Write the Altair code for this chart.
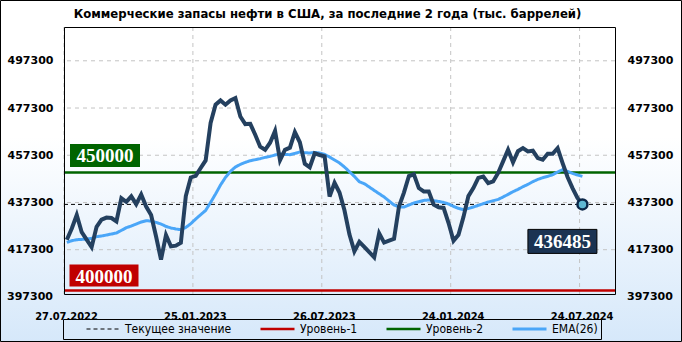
import altair as alt
import pandas as pd

TITLE = "Коммерческие  запасы нефти  в США, за последние  2 года (тыс. баррелей)"

FIRST_WEEK = "2022-07-31"

stocks = [
    421500, 426300, 432000, 424700, 421600, 418400, 427000, 430000, 430900, 430700,
    429300, 439100, 437600, 439900, 436600, 440700, 435600, 432000, 422900, 413100,
    423500, 418700, 419000, 420200, 440000, 447900, 448600, 451900, 455100, 471000,
    478700, 480500, 478700, 480500, 481500, 473700, 470500, 470600, 466000, 460900,
    459600, 462600, 467600, 455200, 459600, 460500, 467100, 462800, 453700, 452200,
    458100, 457400, 456800, 439800, 445600, 441500, 434000, 423800, 416600, 420600,
    418500, 416300, 414100, 424200, 420300, 421100, 421900, 435600, 441500, 448500,
    449200, 443400, 442000, 442000, 436400, 435300, 435000, 428600, 421100, 423600,
    431100, 440000, 443400, 447700, 448300, 445500, 446200, 449800, 454700, 459600,
    454300, 459000, 460300, 458900, 459200, 456100, 455400, 457900, 457900, 460300,
    454000, 448100, 443400, 439200, 436485,
]

ema26 = [
    420390, 421110, 421540, 421660, 421830, 422090, 422810, 423100, 423520, 423950,
    424370, 425470, 426620, 427320, 428170, 429030, 429580, 429450, 428860, 428170,
    427170, 426490, 426070, 425770, 426740, 428310, 430300, 432120, 433940, 437330,
    440890, 444700, 447920, 450460, 452320, 453420, 454270, 454990, 455420, 455840,
    456390, 456810, 457410, 457830, 457660, 457530, 458080, 458670, 458380, 458250,
    458510, 458250, 457660, 456560, 455290, 454020, 452320, 450330, 448360, 446100,
    445250, 443850, 442410, 441020, 439620, 437920, 436230, 435380, 435380, 436230,
    437080, 437630, 438180, 438350, 438050, 437750, 437330, 436650, 435640, 434790,
    434240, 434750, 435380, 436060, 436780, 437500, 438050, 438600, 439620, 440720,
    441860, 442840, 443980, 444960, 446100, 447070, 447790, 448350, 449060, 450210,
    451180, 450460, 449610, 448930, 448350,
]

level_1 = 400000
level_2 = 450000
current_value = 436485

y_ticks = [397300, 417300, 437300, 457300, 477300, 497300]
y_domain = [398540, 511610]
x_ticks = ["2022-07-27", "2023-01-25", "2023-07-26", "2024-01-24", "2024-07-24"]
x_domain = ["2022-07-27", "2024-09-12"]

legend_names = ["Текущее значение", "Уровень-1", "Уровень-2", "EMA(26)"]
legend_colors = ["#000000", "#c00000", "#006400", "#4aa6f8"]

# ---------------------------------------------------------------- tables
dates = pd.date_range(FIRST_WEEK, periods=len(stocks), freq="7D").strftime("%Y-%m-%d")
df_main = pd.DataFrame({"date": dates, "stocks": stocks, "ema": ema26})

rows = []
for name, val in zip(legend_names[:3], [current_value, level_1, level_2]):
    for d in x_domain:
        rows.append({"series": name, "date": d, "value": val})
for d, v in zip(dates, ema26):
    rows.append({"series": legend_names[3], "date": d, "value": v})
df_long = pd.DataFrame(rows)

df_last = pd.DataFrame({"date": [dates[-1]], "value": [stocks[-1]]})
df_l1 = pd.DataFrame({"value": [level_1]})
df_l2 = pd.DataFrame({"value": [level_2]})
df_yt_in = pd.DataFrame({"tick": [t for t in y_ticks if y_domain[0] <= t <= y_domain[1]]})
df_yt_out = pd.DataFrame({"tick": [t for t in y_ticks if t < y_domain[0]]})
df_xt = pd.DataFrame({"date": x_ticks})
df_title = pd.DataFrame({"t": [TITLE]})
one_row = pd.DataFrame({"a": [0]})


def dt(s):
    y, m, d = (int(p) for p in s.split("-"))
    return alt.DateTime(year=y, month=m, date=d, utc=True)


W, H = 551, 267
xs = alt.Scale(type="utc", domain=[dt(s) for s in x_domain])
ys = alt.Scale(domain=y_domain, zero=False, nice=False)

NAVY = "#24405f"
LABEL_FONT = "DejaVu Sans"
COND_FONT = "DejaVu Sans Condensed"

ax_bottom = alt.Axis(orient="bottom", values=[dt(s) for s in x_ticks], format="%d.%m.%Y",
                     labelFont=COND_FONT, labelFontWeight="bold", labelFontSize=11,
                     labelColor="black", labelPadding=16, labelOffset=2, labelFlush=False,
                     labelOverlap=False, ticks=False, grid=False, domain=True,
                     domainColor="black", domainWidth=1, title=None, zindex=1)
ax_top = alt.Axis(orient="top", labels=False, ticks=False, grid=False, domain=True,
                  domainColor="black", domainWidth=1, title=None, zindex=1)
ax_left = alt.Axis(orient="left", values=list(df_yt_in["tick"]), format="d",
                   labelFont=LABEL_FONT, labelFontWeight="bold", labelFontSize=11,
                   labelColor="black", labelPadding=11, labelFlush=False, labelOverlap=False,
                   ticks=False, grid=False, domain=True, domainColor="black",
                   domainWidth=1, title=None, zindex=1)
ax_right = alt.Axis(orient="right", values=list(df_yt_in["tick"]), format="d",
                    labelFont=LABEL_FONT, labelFontWeight="bold", labelFontSize=11,
                    labelColor="black", labelPadding=12, labelFlush=False, labelOverlap=False,
                    ticks=False, grid=False, domain=True, domainColor="black",
                    domainWidth=1, title=None, zindex=1)

leg = alt.Legend(
    title=".", titleOrient="left", titleOpacity=0, titlePadding=16, titleFontSize=12,
    orient="none", legendX=-1, legendY=292, direction="horizontal",
    symbolType="stroke", symbolSize=1156, clipHeight=14,
    labelFont=COND_FONT, labelFontSize=12, labelColor="black", labelOffset=4,
    columnPadding=27, padding=3, strokeColor="black",
    labelExpr="datum.label == 'EMA(26)' ? datum.label + '\u00a0\u00a0\u00a0\u00a0\u00a0' : datum.label",
    labelLimit=300,
)

bg_gradient = alt.LinearGradient(
    gradient="linear", x1=0, y1=0, x2=0, y2=1,
    stops=[alt.GradientStop(color="#ffffff", offset=0),
           alt.GradientStop(color="#ffffff", offset=0.4),
           alt.GradientStop(color="#d6e8fa", offset=1)],
)

bg = alt.Chart(one_row).mark_rect(fill=bg_gradient, stroke="black", strokeWidth=1).encode(
    x=alt.value(-63.5), x2=alt.value(617.5), y=alt.value(-26.5), y2=alt.value(314.5))

title_mark = alt.Chart(df_title).mark_text(
    font=COND_FONT, fontSize=13, fontWeight="bold", color="black",
    align="center", baseline="middle").encode(
    x=alt.value(W / 2 - 12), y=alt.value(-13), text="t:N")

grid_h = alt.Chart(df_yt_in).mark_rule(color="#c4c4c4", strokeDash=[4, 4], strokeWidth=1).encode(
    y=alt.Y("tick:Q", scale=ys, axis=None))
grid_v = alt.Chart(df_xt).mark_rule(color="#c4c4c4", strokeDash=[4, 4], strokeWidth=1).encode(
    x=alt.X("date:T", scale=xs, axis=None))

lines = alt.Chart(df_long).mark_line().encode(
    x=alt.X("date:T", scale=xs, axis=None),
    y=alt.Y("value:Q", scale=ys, axis=None),
    color=alt.Color("series:N", scale=alt.Scale(domain=legend_names, range=legend_colors), legend=leg),
    strokeDash=alt.StrokeDash("series:N", scale=alt.Scale(domain=legend_names,
                              range=[[4, 3], [1, 0], [1, 0], [1, 0]]), legend=leg),
    strokeWidth=alt.StrokeWidth("series:N", scale=alt.Scale(type="ordinal", domain=legend_names,
                                range=[1, 2.5, 2.5, 3]), legend=leg),
)

data_line = alt.Chart(df_main).mark_line(color=NAVY, strokeWidth=4).encode(
    x=alt.X("date:T", scale=xs, axis=ax_bottom),
    y=alt.Y("stocks:Q", scale=ys, axis=ax_left),
)

end_point = alt.Chart(df_last).mark_point(
    shape="circle", filled=True, fill="#5fb8d3", stroke="#0b2748", strokeWidth=2.5,
    size=100, opacity=1).encode(
    x=alt.X("date:T", scale=xs, axis=ax_top),
    y=alt.Y("value:Q", scale=ys, axis=ax_right),
)


def box_path(w, h):
    r = h / w
    return f"M-1,-{r:.3f}L1,-{r:.3f}L1,{r:.3f}L-1,{r:.3f}Z"


BOX_FONT = "Liberation Serif"

box_l2 = alt.Chart(df_l2).mark_point(shape=box_path(70, 23), size=70 ** 2, filled=True,
                                      fill="#006400", opacity=1, strokeWidth=0, yOffset=-17).encode(
    x=alt.value(41), y=alt.Y("value:Q", scale=ys, axis=None))
txt_l2 = alt.Chart(df_l2).mark_text(font=BOX_FONT, fontWeight="bold", fontSize=19, color="white",
                                     align="center", baseline="middle", yOffset=-16).encode(
    x=alt.value(41), y=alt.Y("value:Q", scale=ys, axis=None), text=alt.Text("value:Q", format="d"))

box_l1 = alt.Chart(df_l1).mark_point(shape=box_path(69, 22), size=69 ** 2, filled=True,
                                      fill="#c00000", opacity=1, strokeWidth=0, yOffset=-15).encode(
    x=alt.value(40), y=alt.Y("value:Q", scale=ys, axis=None))
txt_l1 = alt.Chart(df_l1).mark_text(font=BOX_FONT, fontWeight="bold", fontSize=19, color="white",
                                     align="center", baseline="middle", yOffset=-14).encode(
    x=alt.value(40), y=alt.Y("value:Q", scale=ys, axis=None), text=alt.Text("value:Q", format="d"))

box_cur = alt.Chart(df_last).mark_point(shape=box_path(69, 24), size=69 ** 2, filled=True,
                                         fill="#1b3352", opacity=1, stroke="#000000", strokeWidth=1,
                                         xOffset=-20, yOffset=37).encode(
    x=alt.X("date:T", scale=xs, axis=None), y=alt.Y("value:Q", scale=ys, axis=None))
txt_cur = alt.Chart(df_last).mark_text(font=BOX_FONT, fontWeight="bold", fontSize=19, color="white",
                                        align="center", baseline="middle", xOffset=-20, yOffset=38).encode(
    x=alt.X("date:T", scale=xs, axis=None), y=alt.Y("value:Q", scale=ys, axis=None),
    text=alt.Text("value:Q", format="d"))

low_left = alt.Chart(df_yt_out).mark_text(font=LABEL_FONT, fontWeight="bold", fontSize=11,
                                          color="black", align="right", baseline="middle").encode(
    x=alt.value(-11), y=alt.Y("tick:Q", scale=ys, axis=None), text=alt.Text("tick:Q", format="d"))
low_right = alt.Chart(df_yt_out).mark_text(font=LABEL_FONT, fontWeight="bold", fontSize=11,
                                           color="black", align="left", baseline="middle").encode(
    x=alt.value(W + 12), y=alt.Y("tick:Q", scale=ys, axis=None), text=alt.Text("tick:Q", format="d"))

chart = alt.layer(
    bg, title_mark, grid_h, grid_v, lines, data_line, end_point,
    box_l2, txt_l2, box_l1, txt_l1, box_cur, txt_cur, low_left, low_right,
).resolve_axis(x="independent", y="independent").properties(
    width=W, height=H,
    padding={"left": 64, "top": 27, "right": 67, "bottom": 48},
    autosize=alt.AutoSizeParams(type="none"),
    background="white",
).configure_view(stroke=None)

chart.save("out.html", embed_options={"renderer": "svg", "actions": False})
